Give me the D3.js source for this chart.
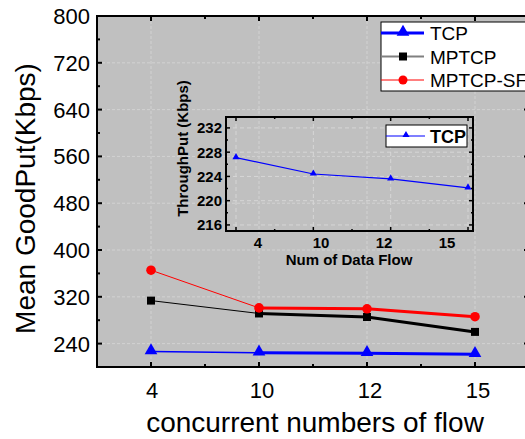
<!DOCTYPE html>
<html><head><meta charset="utf-8">
<script src="https://cdn.jsdelivr.net/npm/d3@7"></script>
<style>body{margin:0;background:#fff}svg{display:block;font-family:"Liberation Sans",Arial,sans-serif}</style>
</head><body>
<script>
const categories = ["4", "10", "12", "15"];
const tcp = [226.5, 224.2, 223.3, 221.8];
const mptcp = [313.5, 291.5, 285.5, 260];
const mptcpSF = [365.5, 301, 299.5, 286];
const yTicks = [240, 320, 400, 480, 560, 640, 720, 800];
const insetTcp = [227.1, 224.4, 223.6, 222.1];
const insetYTicks = [216, 220, 224, 228, 232];
const insetLabels = ["4", "10", "12", "15"];

const W = 525, H = 439;
const svg = d3.select("body").append("svg").attr("width", W).attr("height", H);

const L = 97, R = 529, T = 16, B = 367;
const x = d3.scaleLinear().domain([-0.5, 3.5]).range([L, R]);
const y = d3.scaleLinear().domain([200, 800]).range([B, T]);

svg.append("rect").attr("x", L).attr("y", T).attr("width", R - L).attr("height", B - T).attr("fill", "#c0c0c0");

// grid
const g = svg.append("g");
g.selectAll("line.hg").data(yTicks).join("line")
  .attr("x1", L).attr("x2", R).attr("y1", d => y(d)).attr("y2", d => y(d))
  .attr("stroke", "#d2d2d2").attr("stroke-width", 1).attr("stroke-dasharray", "3,2");
g.selectAll("line.vg").data(categories).join("line")
  .attr("x1", (d, i) => x(i)).attr("x2", (d, i) => x(i)).attr("y1", T).attr("y2", B)
  .attr("stroke", "#d2d2d2").attr("stroke-width", 1).attr("stroke-dasharray", "3,2");

// axes
const minorY = d3.range(200, 801, 40).filter(v => v % 80 !== 0);
const xMajor = d3.range(0, 4), xMinor = [0.5, 1.5, 2.5];
function ticks(sel, vals, orient, len) {
  sel.selectAll(null).data(vals).join("line").each(function(v) {
    const l = d3.select(this);
    if (orient === "left") l.attr("x1", L).attr("x2", L + len).attr("y1", y(v)).attr("y2", y(v));
    if (orient === "right") l.attr("x1", R).attr("x2", R - len).attr("y1", y(v)).attr("y2", y(v));
    if (orient === "bottom") l.attr("x1", x(v)).attr("x2", x(v)).attr("y1", B).attr("y2", B - len);
    if (orient === "top") l.attr("x1", x(v)).attr("x2", x(v)).attr("y1", T).attr("y2", T + len);
  }).attr("stroke", "#000").attr("stroke-width", 2);
}
const ax = svg.append("g");
["left", "right"].forEach(o => { ticks(ax, yTicks, o, 5); ticks(ax, minorY, o, 3); });
["bottom", "top"].forEach(o => { ticks(ax, xMajor, o, 5); ticks(ax, xMinor, o, 3); });
svg.append("rect").attr("x", L).attr("y", T).attr("width", R - L).attr("height", B - T)
  .attr("fill", "none").attr("stroke", "#000").attr("stroke-width", 2);

svg.selectAll("text.yt").data(yTicks).join("text")
  .attr("x", 90).attr("y", d => y(d) + 8).attr("text-anchor", "end")
  .attr("font-size", 22).text(d => d);
svg.selectAll("text.xt").data(categories).join("text")
  .attr("x", (d, i) => x(i) + (i === 0 ? 1 : 3)).attr("y", 398).attr("text-anchor", "middle")
  .attr("font-size", 22).text(d => d);

svg.append("text").attr("x", 315).attr("y", 432).attr("text-anchor", "middle")
  .attr("font-size", 28).text("concurrent numbers of flow");
svg.append("text").attr("transform", "translate(35,198.5) rotate(-90)").attr("text-anchor", "middle")
  .attr("font-size", 28).text("Mean GoodPut(Kbps)");

// series
const line = d3.line().x(d => x(d.i)).y(d => y(d.v));
function series(vals, color, w1, w2) {
  const pts = vals.map((v, i) => ({ i, v }));
  svg.append("path").attr("d", line(pts.slice(0, 2))).attr("fill", "none").attr("stroke", color).attr("stroke-width", w1);
  svg.append("path").attr("d", line(pts.slice(1))).attr("fill", "none").attr("stroke", color).attr("stroke-width", w2);
  return pts;
}
const tri = d3.symbol().type(d3.symbolTriangle).size(70);
const sq = d3.symbol().type(d3.symbolSquare).size(64);

series(tcp, "#0000ff", 1.5, 3).forEach(p => {
  svg.append("path").attr("d", tri).attr("transform", `translate(${x(p.i)},${y(p.v) - 1})`).attr("fill", "#0000ff");
});
series(mptcp, "#000", 1, 3).forEach(p => {
  svg.append("path").attr("d", sq).attr("transform", `translate(${x(p.i)},${y(p.v)})`).attr("fill", "#000");
});
series(mptcpSF, "#ff0000", 1, 3).forEach(p => {
  svg.append("circle").attr("cx", x(p.i)).attr("cy", y(p.v)).attr("r", 4.8).attr("fill", "#ff0000");
});

// legend
const lg = svg.append("g");
lg.append("rect").attr("x", 381).attr("y", 22).attr("width", 160).attr("height", 69)
  .attr("fill", "#fff").attr("stroke", "#000").attr("stroke-width", 1);
const leg = [
  { name: "TCP", color: "#0000ff", w: 3, m: "tri" },
  { name: "MPTCP", color: "#808080", w: 2, m: "sq" },
  { name: "MPTCP-SF", color: "#ff0000", w: 1, m: "circ" }
];
leg.forEach((e, k) => {
  const cy = 33 + k * 23.5;
  lg.append("line").attr("x1", 381).attr("x2", 424).attr("y1", cy).attr("y2", cy).attr("stroke", e.color).attr("stroke-width", e.w);
  if (e.m === "tri") lg.append("path").attr("d", tri).attr("transform", `translate(403,${cy - 1})`).attr("fill", "#0000ff");
  if (e.m === "sq") lg.append("path").attr("d", sq).attr("transform", `translate(403,${cy})`).attr("fill", "#000");
  if (e.m === "circ") lg.append("circle").attr("cx", 403).attr("cy", cy).attr("r", 4.5).attr("fill", "#ff0000");
  lg.append("text").attr("x", 430).attr("y", cy + 7).attr("font-size", 19).text(e.name);
});

// inset
const iL = 226, iR = 473, iT = 117, iB = 231;
const ix = d3.scaleLinear().domain([0, 3]).range([236, 468]);
const iy = d3.scaleLinear().domain([215, 233.8]).range([iB, iT]);
const ilx = d3.scaleLinear().domain([0, 3]).range([258, 447]);
const ig = svg.append("g");
ig.selectAll("line.h").data(insetYTicks).join("line")
  .attr("x1", iL).attr("x2", iR).attr("y1", d => iy(d)).attr("y2", d => iy(d))
  .attr("stroke", "#d6d6d6").attr("stroke-dasharray", "4,3");
ig.selectAll("line.v").data(insetTcp).join("line")
  .attr("x1", (d, i) => ix(i)).attr("x2", (d, i) => ix(i)).attr("y1", iT).attr("y2", iB)
  .attr("stroke", "#d6d6d6").attr("stroke-dasharray", "4,3");
const iMinorY = d3.range(216, 234, 2);
iMinorY.forEach(v => {
  const len = v % 4 === 0 ? 4 : 2;
  ig.append("line").attr("x1", iL).attr("x2", iL + len).attr("y1", iy(v)).attr("y2", iy(v)).attr("stroke", "#000").attr("stroke-width", 1.5);
  ig.append("line").attr("x1", iR).attr("x2", iR - len).attr("y1", iy(v)).attr("y2", iy(v)).attr("stroke", "#000").attr("stroke-width", 1.5);
});
d3.range(0, 3.01, 0.5).forEach(v => {
  const len = v % 1 === 0 ? 4 : 2;
  ig.append("line").attr("x1", ix(v)).attr("x2", ix(v)).attr("y1", iB).attr("y2", iB - len).attr("stroke", "#000").attr("stroke-width", 1.5);
  ig.append("line").attr("x1", ix(v)).attr("x2", ix(v)).attr("y1", iT).attr("y2", iT + len).attr("stroke", "#000").attr("stroke-width", 1.5);
});
ig.append("rect").attr("x", iL).attr("y", iT).attr("width", iR - iL).attr("height", iB - iT)
  .attr("fill", "none").attr("stroke", "#000").attr("stroke-width", 2);
ig.append("path").attr("d", d3.line().x((d, i) => ix(i)).y(d => iy(d))(insetTcp))
  .attr("fill", "none").attr("stroke", "#0000ff").attr("stroke-width", 1.2);
const stri = d3.symbol().type(d3.symbolTriangle).size(22);
insetTcp.forEach((v, i) => ig.append("path").attr("d", stri).attr("transform", `translate(${ix(i)},${iy(v) - 0.5})`).attr("fill", "#0000ff"));
ig.selectAll("text.iyt").data(insetYTicks).join("text")
  .attr("x", 222).attr("y", d => iy(d) + 5.5).attr("text-anchor", "end")
  .attr("font-size", 15).attr("font-weight", "bold").text(d => d);
ig.selectAll("text.ixt").data(insetLabels).join("text")
  .attr("x", (d, i) => ilx(i)).attr("y", 248).attr("text-anchor", "middle")
  .attr("font-size", 15).attr("font-weight", "bold").text(d => d);
ig.append("text").attr("x", 349).attr("y", 265).attr("text-anchor", "middle")
  .attr("font-size", 15).attr("font-weight", "bold").text("Num of Data Flow");
ig.append("text").attr("transform", "translate(188,148.5) rotate(-90)").attr("text-anchor", "middle")
  .attr("font-size", 15).attr("font-weight", "bold").text("ThroughPut (Kbps)");
// inset legend
ig.append("rect").attr("x", 386).attr("y", 125).attr("width", 81).attr("height", 22)
  .attr("fill", "#fff").attr("stroke", "#000").attr("stroke-width", 1);
ig.append("line").attr("x1", 386).attr("x2", 425).attr("y1", 136).attr("y2", 136).attr("stroke", "#0000ff").attr("stroke-width", 1.2);
ig.append("path").attr("d", stri).attr("transform", "translate(406,135)").attr("fill", "#0000ff");
ig.append("text").attr("x", 430).attr("y", 142.5).attr("font-size", 18).attr("font-weight", "bold").text("TCP");
</script>
</body></html>
